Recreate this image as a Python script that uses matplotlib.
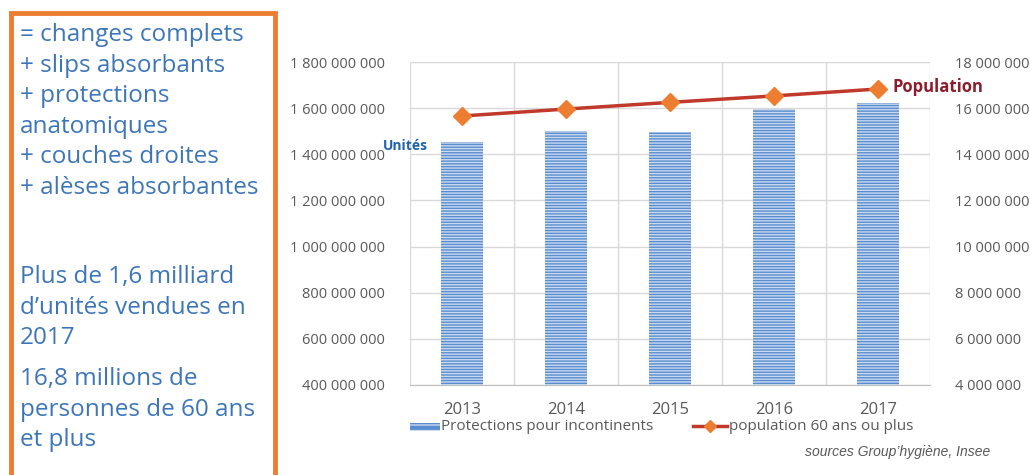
import numpy as np
import matplotlib.pyplot as plt
from matplotlib.patches import Rectangle
from matplotlib.ticker import FuncFormatter, FixedLocator

plt.rcParams['font.family'] = ['Open Sans', 'DejaVu Sans']
plt.rcParams['hatch.linewidth'] = 1.0

#%% data

years = ['2013', '2014', '2015', '2016', '2017']
unites = [1.455e9, 1.50e9, 1.497e9, 1.597e9, 1.622e9]
population = [15.66e6, 15.96e6, 16.25e6, 16.53e6, 16.83e6]

left_text = ['= changes complets', '+ slips absorbants', '+ protections',
             'anatomiques', '+ couches droites', '+ alèses absorbantes']
left_text2 = ['Plus de 1,6 milliard', 'd\u2019unités vendues en', '2017']
left_text3 = ['16,8 millions de', 'personnes de 60 ans', 'et plus']

#%% figure

fig = plt.figure(figsize=(10.30, 4.75), dpi=100)
W, H = 1030, 475

def fx(px):
    return px / W

def fy(py):
    return 1 - py / H

# orange box on the left
fig.patches.append(Rectangle((fx(11), fy(478)), fx(264), fy(13) - fy(478),
                             transform=fig.transFigure, fill=False,
                             edgecolor='#ed7d31', linewidth=3.5))

txtcol = '#3d76b8'
y0 = 35
for s in left_text:
    fig.text(fx(20), fy(y0), s, color=txtcol, fontsize=17.5, va='center')
    y0 += 30.5
y0 = 277
for s in left_text2:
    fig.text(fx(20), fy(y0), s, color=txtcol, fontsize=17.5, va='center')
    y0 += 30.5
y0 = 379
for s in left_text3:
    fig.text(fx(20), fy(y0), s, color=txtcol, fontsize=17.5, va='center')
    y0 += 30.5

#%% chart

ax = fig.add_axes([fx(410), fy(385), fx(930) - fx(410), fy(62) - fy(385)])
x = np.arange(len(years))

ax.bar(x, unites, width=0.41, color='#5a8dcf', edgecolor='#c9d9ef',
       linewidth=0, hatch='------', zorder=2)

ax.set_ylim(4e8, 1.8e9)
ax.set_xlim(-0.5, len(years) - 0.5)
ax.set_yticks(np.arange(4e8, 1.8e9 + 1, 2e8))

def spacefmt(v, pos):
    return '{:,.0f}'.format(v).replace(',', ' ')

ax.yaxis.set_major_formatter(FuncFormatter(spacefmt))
ax.set_xticks(x)
ax.set_xticklabels(years)
ax.xaxis.set_minor_locator(FixedLocator(np.arange(-0.5, len(years), 1)))
ax.grid(axis='y', color='#d9d9d9', linewidth=1, zorder=0)
ax.grid(axis='x', which='minor', color='#d9d9d9', linewidth=1, zorder=0)
ax.tick_params(axis='both', which='both', length=0, colors='#595959')
ax.tick_params(axis='y', labelsize=10.5, pad=18)
ax.tick_params(axis='x', labelsize=12, pad=12)
for sp in ['top', 'left', 'right']:
    ax.spines[sp].set_visible(False)
ax.spines['bottom'].set_color('#bfbfbf')
ax.set_axisbelow(True)

ax2 = ax.twinx()
ax2.plot(x, population, color='#c0392b', linewidth=2.5, marker='D',
         markersize=9, markerfacecolor='#ed7d31', markeredgecolor='#ed7d31',
         zorder=3)
ax2.set_ylim(4e6, 18e6)
ax2.set_yticks(np.arange(4e6, 18e6 + 1, 2e6))
ax2.yaxis.set_major_formatter(FuncFormatter(spacefmt))
ax2.tick_params(axis='y', length=0, colors='#595959', labelsize=10.5, pad=18)
for sp in ['top', 'left', 'right', 'bottom']:
    ax2.spines[sp].set_visible(False)

fig.text(fx(383), fy(146), 'Unités', color='#1f63ad', fontsize=10,
         fontweight='bold', va='center')
fig.text(fx(892), fy(87), 'Population', color='#8b1d2c', fontsize=12,
         fontweight='bold', va='center')

# legend
fig.patches.append(Rectangle((fx(410), fy(431)), fx(30), fy(423) - fy(431),
                             transform=fig.transFigure, facecolor='#5a8dcf',
                             edgecolor='#c9d9ef', linewidth=0, hatch='---'))
fig.text(fx(441), fy(426), 'Protections pour incontinents', color='#595959',
         fontsize=11, va='center')
fig.lines.append(plt.Line2D([fx(693), fx(727)], [fy(426), fy(426)],
                            transform=fig.transFigure, color='#c0392b',
                            linewidth=2.5))
fig.lines.append(plt.Line2D([fx(710)], [fy(426)], transform=fig.transFigure,
                            marker='D', markersize=6, color='#ed7d31',
                            linestyle='none'))
fig.text(fx(729), fy(426), 'population 60 ans ou plus', color='#595959',
         fontsize=11, va='center')

fig.text(fx(990), fy(452), 'sources Group\u2019hygiène, Insee', color='#595959',
         fontsize=10, style='italic', ha='right', va='center',
         family=['Liberation Sans', 'DejaVu Sans'])

fig.savefig('out.png', dpi=100)
